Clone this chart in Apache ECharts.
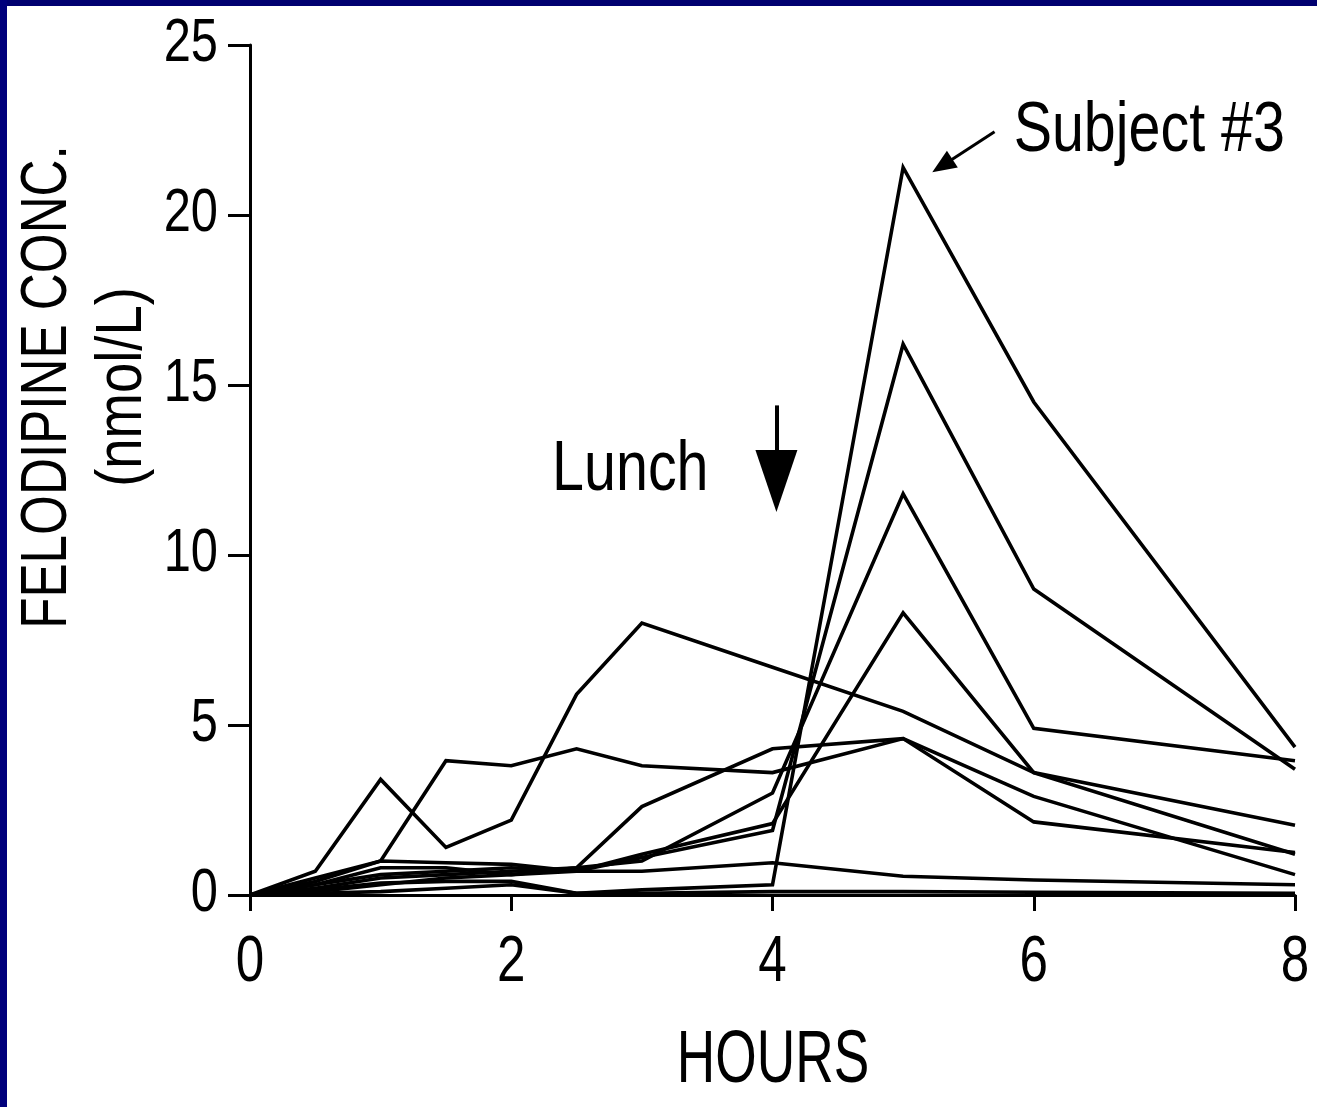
<!DOCTYPE html>
<html>
<head>
<meta charset="utf-8">
<script src="https://cdn.jsdelivr.net/npm/echarts@6/dist/echarts.min.js"></script>
<style>
html,body{margin:0;padding:0;background:#fff;overflow:hidden;width:1317px;height:1107px;}
#wrap{position:relative;width:1317px;height:1107px;background:#fff;overflow:hidden;}
#c{position:absolute;left:0;top:0;width:1317px;height:1107px;}
#bt{position:absolute;left:0;top:0;width:1317px;height:6px;background:#000070;z-index:7;}
#bl{position:absolute;left:0;top:0;width:7px;height:1107px;background:#00007c;z-index:7;}
#br{position:absolute;right:0;top:0;width:8px;height:1107px;background:#fff;z-index:6;}
</style>
</head>
<body>
<div id="wrap"><div id="c"></div><div id="br"></div><div id="bt"></div><div id="bl"></div></div>
<script>
// ---- data (hours after dosing, felodipine nmol/L) ----
const hours = [0, 0.5, 1, 1.5, 2, 2.5, 3, 4, 5, 6, 8];
const subject3 = [0, 0.15, 0.35, 0.4, 0.4, 0.05, 0.15, 0.3, 21.4, 14.5, 4.35];
const subjectB = [0, 0.3, 0.6, 0.7, 0.8, 0.7, 1.1, 1.9, 16.2, 9.0, 3.7];
const subjectC = [0, 0.2, 0.5, 0.6, 0.7, 0.8, 1.0, 3.0, 11.8, 4.9, 3.95];
const subjectD = [0, 0.5, 1.0, 0.95, 0.9, 0.7, 1.2, 2.1, 8.3, 3.6, 1.2];
const subjectE = [0, 0.7, 3.4, 1.4, 2.2, 5.9, 8.0, 6.7, 5.4, 3.6, 2.05];
const subjectF = [0, 0.4, 1.0, 3.95, 3.8, 4.3, 3.8, 3.6, 4.6, 2.15, 1.25];
const subjectG = [0, 0.3, 0.8, 0.8, 0.6, 0.8, 2.6, 4.3, 4.6, 2.9, 0.6];
const subjectH = [0, 0.1, 0.3, 0.5, 0.6, 0.7, 0.7, 0.95, 0.55, 0.44, 0.3];
const subjectI = [0, 0.05, 0.1, 0.2, 0.3, 0.05, 0.05, 0.1, 0.1, 0.08, 0.05];
const subjects = [subject3, subjectB, subjectC, subjectD, subjectE, subjectF, subjectG, subjectH, subjectI];

const xTicks = [0, 2, 4, 6, 8];
const yTicks = [0, 5, 10, 15, 20, 25];
const xTickLabels = ['0', '2', '4', '6', '8'];
const yTickLabels = ['0', '5', '10', '15', '20', '25'];

// annotation anchors (data coordinates)
const lunchArrow = [[4.03, 14.4], [4.03, 12.18]];
const subj3Arrow = [[5.70, 22.45], [5.30, 21.45]];

const FONT = "'Liberation Sans', Arial, Helvetica, sans-serif";
const SQ = 0.8; // horizontal condensing of the lettering

const chart = echarts.init(document.getElementById('c'), null, {renderer: 'canvas'});

const series = subjects.map((vals) => ({
  type: 'line',
  data: hours.map((h, k) => [h, vals[k]]),
  symbol: 'none',
  lineStyle: {color: '#000', width: 3.6, join: 'miter'},
  z: 3,
  silent: true,
  animation: false
}));

series.push({
  type: 'line', data: [], symbol: 'none', animation: false, silent: true,
  markLine: {
    silent: true, animation: false,
    label: {show: false},
    data: [
      [{coord: lunchArrow[0], symbol: 'none', lineStyle: {width: 4}},
       {coord: lunchArrow[1], symbol: 'triangle', symbolSize: [42, 62]}],
      [{coord: subj3Arrow[0], symbol: 'none', lineStyle: {width: 3}},
       {coord: subj3Arrow[1], symbol: 'triangle', symbolSize: [20, 24]}]
    ],
    lineStyle: {color: '#000', type: 'solid', width: 3},
    itemStyle: {color: '#000'}
  }
});

chart.setOption({
  animation: false,
  backgroundColor: '#fff',
  grid: {left: 250, right: 22, top: 45, bottom: 212, containLabel: false},
  xAxis: {
    type: 'value',
    min: xTicks[0], max: xTicks[xTicks.length - 1], interval: xTicks[1] - xTicks[0],
    axisLine: {lineStyle: {color: '#000', width: 3}},
    axisTick: {show: true, length: 16, lineStyle: {color: '#000', width: 3}},
    axisLabel: {show: false},
    splitLine: {show: false}
  },
  yAxis: {
    type: 'value',
    min: yTicks[0], max: yTicks[yTicks.length - 1], interval: yTicks[1] - yTicks[0],
    axisLine: {show: true, lineStyle: {color: '#000', width: 3}},
    axisTick: {show: true, length: 22, lineStyle: {color: '#000', width: 3}},
    axisLabel: {show: false},
    splitLine: {show: false}
  },
  series: series
});

function txt(text, x, y, size, align, opts) {
  return Object.assign({
    type: 'text', x: x, y: y, scaleX: SQ, silent: true,
    style: {text: text, fontFamily: FONT, fontSize: size, fill: '#000', align: align, verticalAlign: 'middle'}
  }, opts || {});
}

const g = [];
// tick labels, positioned by the axes
xTicks.forEach((v, i) => {
  const p = chart.convertToPixel({gridIndex: 0}, [v, 0]);
  g.push(txt(xTickLabels[i], p[0], p[1] + 68, 64, 'center'));
});
yTicks.forEach((v, i) => {
  const p = chart.convertToPixel({gridIndex: 0}, [0, v]);
  g.push(txt(yTickLabels[i], p[0] - 32, p[1] - 1, 61, 'right'));
});
// axis titles
g.push(txt('HOURS', 773, 1062, 74, 'center', {scaleX: 0.72}));
g.push(txt('FELODIPINE CONC.', 48, 387, 64, 'center', {rotation: Math.PI / 2}));
g.push(txt('(nmol/L)', 123, 387, 64, 'center', {rotation: Math.PI / 2, scaleX: 0.85}));
// annotations
const pLunch = chart.convertToPixel({gridIndex: 0}, [4, 12.5]);
const pSubj = chart.convertToPixel({gridIndex: 0}, [5.8, 22.5]);
g.push(txt('Lunch', pLunch[0] - 64, pLunch[1] + 1, 70, 'right', {scaleX: 0.82}));
g.push(txt('Subject #3', pSubj[0] + 6, pSubj[1] + 2, 70, 'left', {scaleX: 0.82}));

chart.setOption({graphic: g});
</script>
</body>
</html>
